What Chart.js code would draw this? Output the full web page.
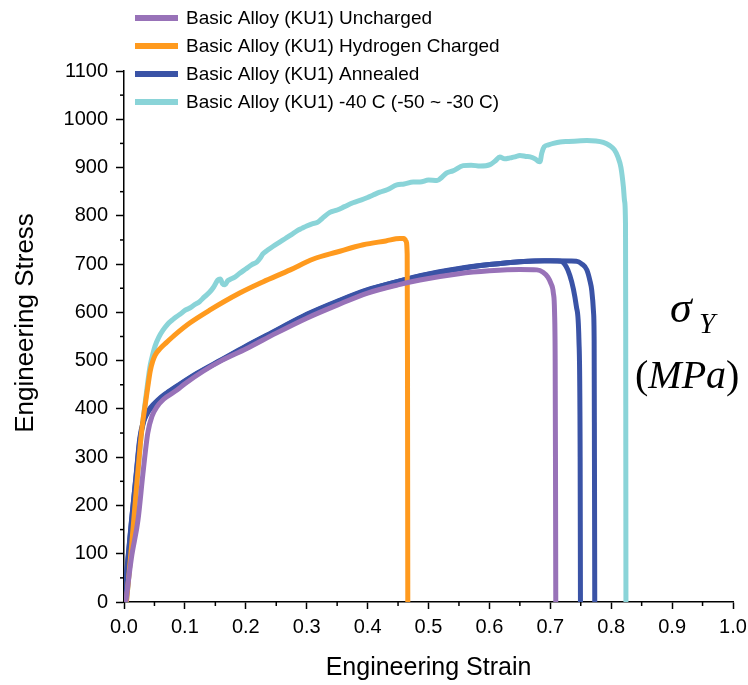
<!DOCTYPE html>
<html>
<head>
<meta charset="utf-8">
<script src="https://cdn.jsdelivr.net/npm/chart.js@4.4.0/dist/chart.umd.min.js"></script>
<style>
  body { margin: 0; background: #fff; }
  #wrap { width: 748px; height: 685px; position: relative; }
</style>
</head>
<body>
<div id="wrap"><canvas id="lineChart"></canvas></div>
<script>
// series labels and colours
let seriesNames = [
  'Basic Alloy (KU1) Uncharged',
  'Basic Alloy (KU1) Hydrogen Charged',
  'Basic Alloy (KU1) Annealed',
  'Basic Alloy (KU1) -40 C (-50 ~ -30 C)'
];
let seriesColors = ['#9872b8', '#ff9a1e', '#3a53a6', '#8ad4d8'];

// Uncharged
let unchargedStrain = [0.003, 0.012, 0.023, 0.031, 0.039, 0.046, 0.054, 0.065, 0.087, 0.1, 0.13, 0.16, 0.2, 0.25, 0.3, 0.35, 0.4, 0.45, 0.486, 0.55, 0.6, 0.65, 0.678, 0.688, 0.696, 0.701, 0.705, 0.707, 0.708, 0.7085, 0.709];
let unchargedStress = [0, 90, 170, 265, 350, 385, 404, 420, 439, 452, 478, 500, 524, 557, 588, 615, 640, 657, 667, 680, 686, 689, 688, 683, 673, 660, 640, 600, 500, 300, 0];

// Hydrogen charged
let chargedStrain = [0.004, 0.012, 0.02, 0.027, 0.031, 0.035, 0.039, 0.043, 0.047, 0.051, 0.06, 0.07, 0.085, 0.108, 0.14, 0.19, 0.228, 0.273, 0.31, 0.35, 0.393, 0.43, 0.453, 0.46, 0.463, 0.465, 0.4655, 0.466];
let chargedStress = [0, 110, 230, 330, 375, 410, 445, 478, 498, 511, 526, 538, 555, 578, 604, 640, 663, 688, 710, 725, 740, 748, 753, 753, 748, 720, 500, 0];

// Annealed, two specimens
let annealedAStrain = [0, 0.0126, 0.02, 0.026, 0.032, 0.038, 0.043, 0.055, 0.07, 0.09, 0.12, 0.16, 0.2, 0.25, 0.3, 0.35, 0.4, 0.45, 0.486, 0.55, 0.6, 0.65, 0.69, 0.717, 0.726, 0.732, 0.738, 0.743, 0.747, 0.749, 0.7495];
let annealedAStress = [0, 170, 265, 340, 375, 392, 402, 418, 433, 450, 474, 502, 530, 563, 596, 623, 647, 664, 676, 691, 699, 705, 707, 706, 695, 677, 648, 611, 543, 300, 0];
let annealedBStrain = [0, 0.012, 0.02, 0.026, 0.032, 0.038, 0.044, 0.056, 0.07, 0.09, 0.12, 0.16, 0.2, 0.25, 0.3, 0.35, 0.4, 0.45, 0.5, 0.55, 0.6, 0.65, 0.7, 0.743, 0.752, 0.76, 0.765, 0.768, 0.771, 0.772, 0.7725, 0.773];
let annealedBStress = [0, 165, 262, 335, 372, 390, 401, 417, 432, 449, 473, 501, 529, 562, 595, 622, 646, 664, 679, 690, 699, 705, 707, 706, 700, 688, 666, 646, 600, 540, 300, 0];

// -40 C
let coldStrain = [0.004, 0.012, 0.02, 0.027, 0.031, 0.035, 0.039, 0.043, 0.047, 0.051, 0.057, 0.064, 0.072, 0.08, 0.086, 0.092, 0.1, 0.108, 0.116, 0.124,
  0.132, 0.14, 0.147, 0.154, 0.158, 0.162, 0.166, 0.17, 0.174, 0.182, 0.19, 0.2, 0.21, 0.218, 0.224, 0.228, 0.236, 0.245, 0.255, 0.265,
  0.275, 0.284, 0.292, 0.3, 0.31, 0.317, 0.325, 0.338, 0.35, 0.362, 0.376, 0.39, 0.4, 0.409, 0.42, 0.432, 0.448, 0.46, 0.475, 0.486,
  0.5, 0.514, 0.522, 0.53, 0.54, 0.557, 0.57, 0.585, 0.601, 0.61, 0.617, 0.625, 0.634, 0.642, 0.65, 0.66, 0.667, 0.675, 0.68, 0.683,
  0.686, 0.69, 0.697, 0.705, 0.716, 0.73, 0.745, 0.76, 0.775, 0.787, 0.797, 0.805, 0.811, 0.816, 0.82, 0.822, 0.8235, 0.8238, 0.824, 0.8242];
let coldStress = [0, 110, 230, 330, 375, 415, 455, 490, 512, 530, 548, 563, 576, 585, 591, 596, 604, 609, 616, 622,
  632, 641, 652, 667, 669, 659, 657, 665, 668, 673, 681, 690, 699, 704, 713, 721, 729, 737, 745, 753,
  761, 769, 774, 779, 784, 786, 794, 807, 812, 819, 827, 833, 838, 843, 849, 854, 864, 866, 870, 870,
  874, 873, 880, 889, 893, 904, 905, 903, 906, 914, 922, 918, 920, 922, 925, 923, 922, 918, 913, 912,
  930, 943, 947, 950, 953, 954, 955, 956, 955, 952, 946, 937, 922, 900, 860, 830, 780, 600, 300, 0];

// axis ticks
let xTicks = [0, 0.1, 0.2, 0.3, 0.4, 0.5, 0.6, 0.7, 0.8, 0.9, 1.0];
let yTicks = [0, 100, 200, 300, 400, 500, 600, 700, 800, 900, 1000, 1100];

function points(xs, ys) {
  return xs.map((x, i) => ({x: x, y: ys[i]}));
}

function dataset(xs, ys, color, order) {
  return {
    data: points(xs, ys),
    borderColor: color,
    backgroundColor: color,
    borderWidth: 5,
    pointRadius: 0,
    cubicInterpolationMode: 'monotone',
    borderCapStyle: 'round',
    borderJoinStyle: 'round',
    order: order
  };
}

// legend, minor ticks, y title and sigma label
let extras = {
  id: 'extras',
  afterDraw(chart) {
    let ctx = chart.ctx;
    let xs = chart.scales.x, ys = chart.scales.y;
    ctx.save();
    ctx.strokeStyle = '#000';
    ctx.lineWidth = 1.5;
    for (let i = 0; i < xTicks.length - 1; i++) {
      let px = xs.getPixelForValue((xTicks[i] + xTicks[i + 1]) / 2);
      ctx.beginPath();
      ctx.moveTo(px, xs.top);
      ctx.lineTo(px, xs.top + 4);
      ctx.stroke();
    }
    for (let i = 0; i < yTicks.length - 1; i++) {
      let py = ys.getPixelForValue((yTicks[i] + yTicks[i + 1]) / 2);
      ctx.beginPath();
      ctx.moveTo(ys.right, py);
      ctx.lineTo(ys.right - 4, py);
      ctx.stroke();
    }

    // legend
    ctx.font = '19px "Liberation Sans", Arial, sans-serif';
    ctx.textBaseline = 'middle';
    ctx.textAlign = 'left';
    seriesNames.forEach((name, i) => {
      let y = 18 + i * 28;
      ctx.strokeStyle = seriesColors[i];
      ctx.lineWidth = 6;
      ctx.beginPath();
      ctx.moveTo(135, y);
      ctx.lineTo(178, y);
      ctx.stroke();
      ctx.fillStyle = '#000';
      ctx.fillText(name, 186, y + 1);
    });

    // y axis title
    ctx.save();
    ctx.translate(26, 323);
    ctx.rotate(-Math.PI / 2);
    ctx.textAlign = 'center';
    ctx.font = '26px "Liberation Sans", Arial, sans-serif';
    ctx.fillText('Engineering Stress', 0, 0);
    ctx.restore();

    // sigma_Y (MPa)
    ctx.textBaseline = 'alphabetic';
    ctx.font = 'italic 44px "Liberation Serif", "Times New Roman", serif';
    ctx.fillText('σ', 670, 322);
    ctx.font = 'italic 29px "Liberation Serif", "Times New Roman", serif';
    ctx.fillText('Y', 699, 333);
    let x = 635;
    ctx.font = '40px "Liberation Serif", "Times New Roman", serif';
    ctx.fillText('(', x, 388);
    x += ctx.measureText('(').width;
    ctx.font = 'italic 40px "Liberation Serif", "Times New Roman", serif';
    ctx.fillText('MPa', x, 388);
    x += ctx.measureText('MPa').width;
    ctx.font = '40px "Liberation Serif", "Times New Roman", serif';
    ctx.fillText(')', x, 388);
    ctx.restore();
  }
};

let chartdata = {
  datasets: [
    dataset(unchargedStrain, unchargedStress, seriesColors[0], 0),
    dataset(chargedStrain, chargedStress, seriesColors[1], 1),
    dataset(annealedAStrain, annealedAStress, seriesColors[2], 2),
    dataset(annealedBStrain, annealedBStress, seriesColors[2], 3),
    dataset(coldStrain, coldStress, seriesColors[3], 4)
  ]
};

let tickFont = {family: '"Liberation Sans", Arial, sans-serif', size: 20};

new Chart(document.getElementById('lineChart'), {
  type: 'line',
  data: chartdata,
  plugins: [extras],
  options: {
    responsive: true,
    maintainAspectRatio: false,
    animation: false,
    layout: {padding: {top: 71, right: 15, left: 0, bottom: 0}},
    plugins: {legend: {display: false}, tooltip: {enabled: false}},
    scales: {
      x: {
        type: 'linear',
        min: 0,
        max: 1,
        afterBuildTicks: s => { s.ticks = xTicks.map(v => ({value: v})); },
        afterFit: s => { s.height = 83; s.paddingLeft = 0; s.paddingRight = 0; },
        ticks: {color: '#000', font: tickFont, padding: 6, maxRotation: 0, callback: v => v.toFixed(1)},
        grid: {drawOnChartArea: false, tickLength: 7, tickWidth: 1.5, tickColor: '#000'},
        border: {display: true, color: '#000', width: 1.5},
        title: {display: true, text: 'Engineering Strain', color: '#000',
          font: {family: '"Liberation Sans", Arial, sans-serif', size: 25}, padding: {top: 0, bottom: 2}}
      },
      y: {
        type: 'linear',
        min: 0,
        max: 1100,
        afterBuildTicks: s => { s.ticks = yTicks.map(v => ({value: v})); },
        afterFit: s => { s.width = 124; s.paddingTop = 0; s.paddingBottom = 0; },
        ticks: {color: '#000', font: tickFont, padding: 8, callback: v => String(v)},
        grid: {drawOnChartArea: false, tickLength: 8, tickWidth: 1.5, tickColor: '#000'},
        border: {display: true, color: '#000', width: 1.5}
      }
    }
  }
});
</script>
</body>
</html>
